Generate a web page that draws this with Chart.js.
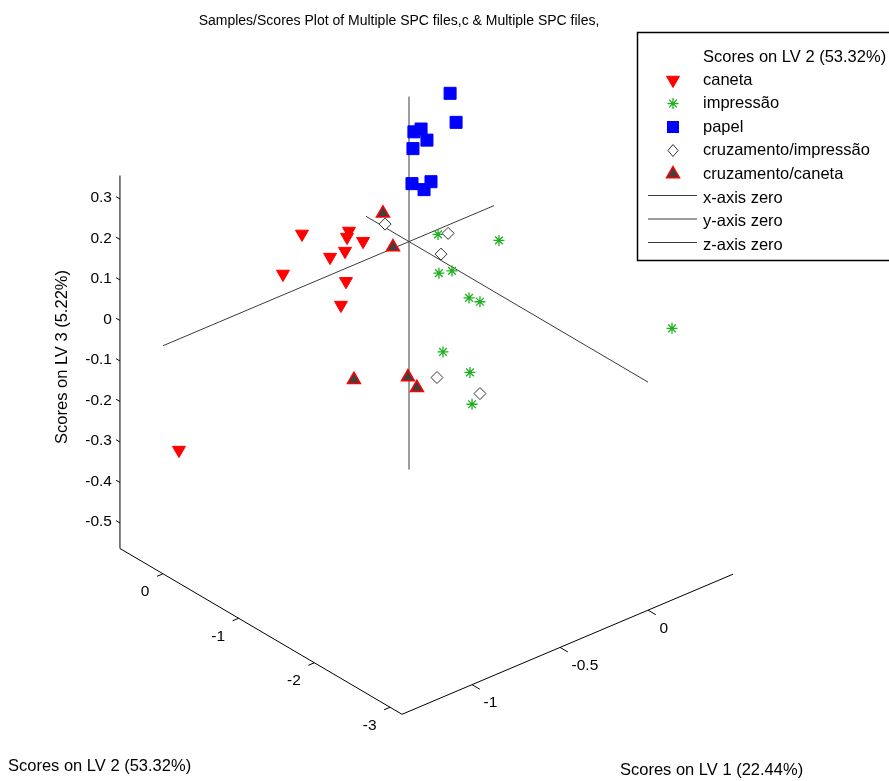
<!DOCTYPE html>
<html>
<head>
<meta charset="utf-8">
<title>Samples/Scores Plot</title>
<script src="https://cdn.jsdelivr.net/npm/chart.js@4.4.1/dist/chart.umd.min.js"></script>
<style>
    html, body { margin: 0; padding: 0; background: #ffffff; }
    #wrap { width: 889px; height: 781px; position: relative; }
</style>
</head>
<body>
<div id="wrap"><canvas id="scoresPlot" width="889" height="781"></canvas></div>
<script>
// scores per class: LV1, LV2, LV3
const canetaLV1 = [-0.522, -0.298, -0.309, -0.261, -0.299, -0.341, -0.587, -0.272, -0.322, -1.135];
const canetaLV2 = [0.20, 0.10, 0.10, 0.00, 0.15, 0.25, 0.30, 0.20, 0.15, 0.40];
const canetaLV3 = [0.093, 0.070, 0.057, 0.049, 0.015, -0.003, -0.005, -0.070, -0.114, -0.350];

const impressaoLV1 = [-0.007, 0.124, -0.131, -0.100, -0.175, -0.156, -0.237, -0.256, -0.287, 0.247];
const impressaoLV2 = [-0.40, -0.90, -0.70, -0.80, -1.20, -1.30, -1.00, -1.40, -1.50, -2.90];
const impressaoLV3 = [0.063, 0.079, 0.023, 0.034, 0.025, 0.023, -0.119, -0.122, -0.184, 0.059];

const papelLV1 = [0.384, 0.375, 0.071, 0.133, 0.188, 0.044, 0.017, 0.168, 0.064];
const papelLV2 = [0.35, 0.25, 0.10, 0.15, 0.20, 0.05, 0.00, 0.10, -0.05];
const papelLV3 = [0.257, 0.198, 0.247, 0.237, 0.194, 0.216, 0.140, 0.106, 0.122];

const cruzImpLV1 = [-0.265, 0.007, -0.076, -0.314, -0.285];
const cruzImpLV2 = [-0.30, -0.50, -0.60, -1.10, -1.60];
const cruzImpLV3 = [0.125, 0.074, 0.049, -0.157, -0.147];

const cruzCanLV1 = [-0.234, -0.220, -0.528, -0.264, -0.256];
const cruzCanLV2 = [-0.20, -0.30, -0.50, -0.60, -0.70];
const cruzCanLV3 = [0.135, 0.060, -0.189, -0.220, -0.237];

// axis limits and ticks
const lv1Limits = [-1.398, 0.483];
const lv2Limits = [-3.158, 0.568];
const lv3Limits = [-0.563, 0.358];
const lv1Ticks = [-1, -0.5, 0];
const lv2Ticks = [0, -1, -2, -3];
const lv3Ticks = [0.3, 0.2, 0.1, 0, -0.1, -0.2, -0.3, -0.4, -0.5];

const titleText = 'Samples/Scores Plot of Multiple SPC files,c & Multiple SPC files,';
const lv1Label = 'Scores on LV 1 (22.44%)';
const lv2Label = 'Scores on LV 2 (53.32%)';
const lv3Label = 'Scores on LV 3 (5.22%)';
const legendLabels = ['caneta', 'impressão', 'papel', 'cruzamento/impressão', 'cruzamento/caneta',
    'x-axis zero', 'y-axis zero', 'z-axis zero'];

const FONT = '"Liberation Sans", Arial, Helvetica, sans-serif';

// fixed 3-D view (az/el of the original figure) as a linear projection
function project(lv1, lv2, lv3) {
    return {
        x: 1.76 * lv1 - 0.757 * lv2,
        y: 0.745 * lv1 + 0.445 * lv2 + 4.05 * lv3
    };
}

function toPoints(a, b, c) {
    return a.map(function (v, i) {
        return project(v, b[i], c[i]);
    });
}

function segment(p, q, color) {
    return {
        data: [project(p[0], p[1], p[2]), project(q[0], q[1], q[2])],
        showLine: true,
        borderColor: color,
        borderWidth: 1,
        pointRadius: 0,
        order: 10
    };
}

const styles = {
    caneta: { shape: 'triangle', rotation: 180, radius: 7.5, fill: '#ff0000', stroke: '#ff0000', width: 1 },
    impressao: { shape: 'star', rotation: 0, radius: 5.5, fill: '#1fb01f', stroke: '#1fb01f', width: 1.3 },
    papel: { shape: 'rect', rotation: 0, radius: 8.5, fill: '#0000ff', stroke: '#0000ff', width: 1 },
    cruzImp: { shape: 'rectRot', rotation: 0, radius: 6, fill: '#ffffff', stroke: '#333333', width: 1 },
    cruzCan: { shape: 'triangle', rotation: 0, radius: 7.5, fill: '#404040', stroke: '#ff0000', width: 1.5 }
};

function markerSet(label, pts, st, order) {
    return {
        label: label,
        data: pts,
        pointStyle: st.shape,
        rotation: st.rotation,
        pointRadius: st.radius,
        backgroundColor: st.fill,
        borderColor: st.stroke,
        borderWidth: st.width,
        order: order
    };
}

const lv1Min = lv1Limits[0], lv1Max = lv1Limits[1];
const lv2Min = lv2Limits[0], lv2Max = lv2Limits[1];
const lv3Min = lv3Limits[0], lv3Max = lv3Limits[1];

const datasets = [
    // box edges
    segment([lv1Min, lv2Max, lv3Min], [lv1Min, lv2Max, lv3Max], '#000000'),
    segment([lv1Min, lv2Max, lv3Min], [lv1Min, lv2Min, lv3Min], '#000000'),
    segment([lv1Min, lv2Min, lv3Min], [lv1Max, lv2Min, lv3Min], '#000000'),
    // zero lines
    segment([lv1Min, 0, 0], [lv1Max, 0, 0], '#3a3a3a'),
    segment([0, lv2Min, 0], [0, lv2Max, 0], '#3a3a3a'),
    segment([0, 0, lv3Min], [0, 0, lv3Max], '#3a3a3a'),
    markerSet('caneta', toPoints(canetaLV1, canetaLV2, canetaLV3), styles.caneta, 5),
    markerSet('impressão', toPoints(impressaoLV1, impressaoLV2, impressaoLV3), styles.impressao, 4),
    markerSet('papel', toPoints(papelLV1, papelLV2, papelLV3), styles.papel, 3),
    markerSet('cruzamento/impressão', toPoints(cruzImpLV1, cruzImpLV2, cruzImpLV3), styles.cruzImp, 2),
    markerSet('cruzamento/caneta', toPoints(cruzCanLV1, cruzCanLV2, cruzCanLV3), styles.cruzCan, 1)
];

function drawGlyph(ctx, st, x, y) {
    const r = st.radius;
    ctx.save();
    ctx.fillStyle = st.fill;
    ctx.strokeStyle = st.stroke;
    ctx.lineWidth = st.width;
    ctx.beginPath();
    if (st.shape === 'triangle') {
        const s = st.rotation === 180 ? -1 : 1;
        ctx.moveTo(x, y - s * r);
        ctx.lineTo(x + 0.866 * r, y + s * r / 2);
        ctx.lineTo(x - 0.866 * r, y + s * r / 2);
        ctx.closePath();
        ctx.fill();
        ctx.stroke();
    } else if (st.shape === 'rect') {
        const h = Math.SQRT1_2 * r;
        ctx.rect(x - h, y - h, 2 * h, 2 * h);
        ctx.fill();
    } else if (st.shape === 'rectRot') {
        ctx.moveTo(x, y - r);
        ctx.lineTo(x + r * 0.85, y);
        ctx.lineTo(x, y + r);
        ctx.lineTo(x - r * 0.85, y);
        ctx.closePath();
        ctx.fill();
        ctx.stroke();
    } else if (st.shape === 'star') {
        for (let k = 0; k < 4; k++) {
            const ang = k * Math.PI / 4;
            ctx.moveTo(x - Math.cos(ang) * r, y - Math.sin(ang) * r);
            ctx.lineTo(x + Math.cos(ang) * r, y + Math.sin(ang) * r);
        }
        ctx.stroke();
    }
    ctx.restore();
}

const decorations = {
    id: 'decorations',
    afterDraw: function (chart) {
        const ctx = chart.ctx;
        const sx = chart.scales.x;
        const sy = chart.scales.y;
        function pix(a, b, c) {
            const p = project(a, b, c);
            return [sx.getPixelForValue(p.x), sy.getPixelForValue(p.y)];
        }
        function dir(a, b, c) {
            const o = pix(0, 0, 0);
            const p = pix(a, b, c);
            const len = Math.hypot(p[0] - o[0], p[1] - o[1]);
            return [(p[0] - o[0]) / len, (p[1] - o[1]) / len];
        }
        const d1 = dir(1, 0, 0);
        const d2 = dir(0, 1, 0);

        ctx.save();
        ctx.strokeStyle = '#000000';
        ctx.fillStyle = '#000000';
        ctx.lineWidth = 1;
        ctx.font = '15.5px ' + FONT;
        ctx.textBaseline = 'middle';

        // LV3 ticks on the vertical edge
        ctx.textAlign = 'right';
        lv3Ticks.forEach(function (t) {
            const p = pix(lv1Min, lv2Max, t);
            ctx.beginPath();
            ctx.moveTo(p[0], p[1]);
            ctx.lineTo(p[0] + d2[0] * 4.5, p[1] + d2[1] * 4.5);
            ctx.stroke();
            ctx.fillText(String(t), p[0] - 8, p[1] - 1);
        });

        // LV2 ticks
        lv2Ticks.forEach(function (t) {
            const p = pix(lv1Min, t, lv3Min);
            ctx.beginPath();
            ctx.moveTo(p[0], p[1]);
            ctx.lineTo(p[0] - d1[0] * 6.5, p[1] - d1[1] * 6.5);
            ctx.stroke();
            ctx.fillText(String(t), p[0] - 13.5, p[1] + 18);
        });

        // LV1 ticks
        ctx.textAlign = 'left';
        lv1Ticks.forEach(function (t) {
            const p = pix(t, lv2Min, lv3Min);
            ctx.beginPath();
            ctx.moveTo(p[0], p[1]);
            ctx.lineTo(p[0] - d2[0] * 9, p[1] - d2[1] * 9);
            ctx.stroke();
            ctx.fillText(String(t), p[0] + 11.5, p[1] + 18.5);
        });

        // title and axis labels
        ctx.font = '14px ' + FONT;
        ctx.textAlign = 'center';
        ctx.fillText(titleText, 399, 21);

        ctx.font = '16.5px ' + FONT;
        ctx.textAlign = 'left';
        ctx.fillText(lv2Label, 8, 766);
        ctx.fillText(lv1Label, 620, 770);

        ctx.save();
        ctx.translate(62, 357);
        ctx.rotate(-Math.PI / 2);
        ctx.textAlign = 'center';
        ctx.fillText(lv3Label, 0, 0);
        ctx.restore();

        // legend
        ctx.fillStyle = '#ffffff';
        ctx.fillRect(637, 32, 260, 229);
        ctx.strokeStyle = '#000000';
        ctx.lineWidth = 1.5;
        ctx.strokeRect(637.5, 32.5, 260, 228);
        ctx.fillStyle = '#000000';
        ctx.textAlign = 'left';
        ctx.font = '16.5px ' + FONT;
        const rows = [57, 80, 103.5, 127, 150.5, 174, 198, 221.5, 245];
        ctx.fillText(lv2Label, 703, rows[0]);
        const glyphs = [styles.caneta, styles.impressao, styles.papel, styles.cruzImp, styles.cruzCan];
        legendLabels.forEach(function (lab, i) {
            const y = rows[i + 1];
            if (i < glyphs.length) {
                drawGlyph(ctx, glyphs[i], 673, y);
            } else {
                ctx.save();
                ctx.strokeStyle = '#3a3a3a';
                ctx.lineWidth = 1;
                ctx.beginPath();
                ctx.moveTo(648, y - 2.5);
                ctx.lineTo(697, y - 2.5);
                ctx.stroke();
                ctx.restore();
            }
            ctx.fillText(lab, 703, y);
        });
        ctx.restore();
    }
};

new Chart(document.getElementById('scoresPlot'), {
    type: 'scatter',
    data: { datasets: datasets },
    options: {
        responsive: false,
        animation: false,
        events: [],
        layout: { padding: 0, autoPadding: false },
        scales: {
            x: { type: 'linear', display: false, min: -4.09, max: 4.80 },
            y: { type: 'linear', display: false, min: -5.394, max: 2.416 }
        },
        plugins: {
            legend: { display: false },
            tooltip: { enabled: false },
            title: { display: false }
        }
    },
    plugins: [decorations]
});
</script>
</body>
</html>
